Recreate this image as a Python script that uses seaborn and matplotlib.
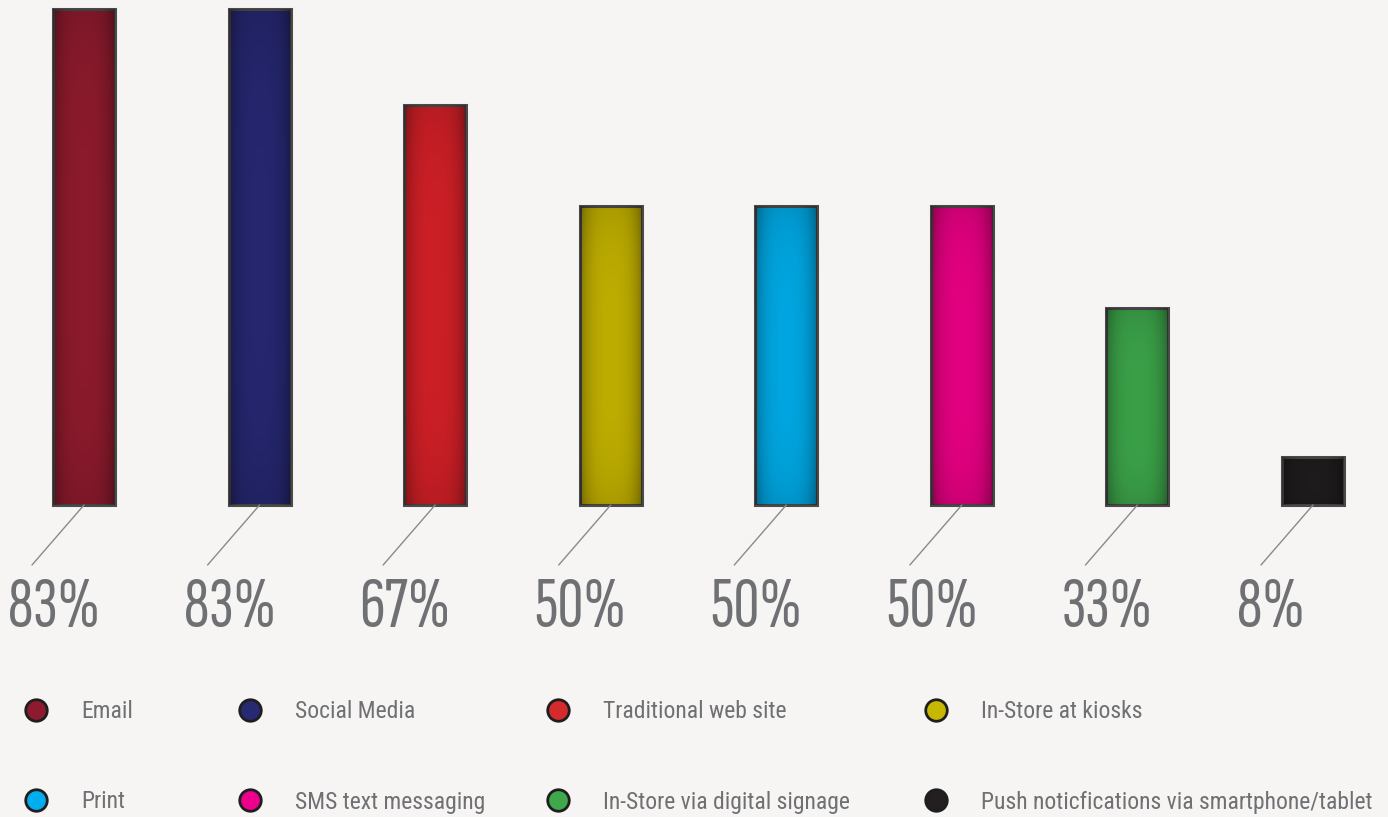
import numpy as np
import pandas as pd
import matplotlib.pyplot as plt
import seaborn as sns

# data
channels = ["Email", "Social Media", "Traditional web site", "In-Store at kiosks",
            "Print", "SMS text messaging", "In-Store via digital signage",
            "Push noticfications via smartphone/tablet"]
percent = [83, 83, 67, 50, 50, 50, 33, 8]
bar_colors = ["#8a1a2c", "#25266d", "#cb1f26", "#bcab00",
              "#00a4de", "#e1007f", "#3a9e47", "#1d1b1c"]
dot_colors = ["#8d1a2f", "#272a72", "#d52a2c", "#c6b800",
              "#00aeef", "#ec008c", "#3fa84a", "#231f20"]

df = pd.DataFrame({"channel": channels, "percent": percent})

W, H = 1388, 817
bg = "#f6f5f3"
grey_txt = "#6f7073"

sns.set_theme(style="white")
plt.rcParams["font.family"] = ["Roboto Condensed", "DejaVu Sans"]

fig = plt.figure(figsize=(W / 100, H / 100), dpi=100, facecolor=bg)

# bar axes: baseline at y=505 px, 83% reaches y=9 px
ax = fig.add_axes([0, (H - 505) / H, 1, (505 - 9) / H])
ax.patch.set_visible(False)
sns.barplot(data=df, x="channel", y="percent", hue="channel", palette=bar_colors,
            width=0.353, legend=False, ax=ax, edgecolor="#4a4a4a", linewidth=2.2,
            saturation=1)

# soft radial darkening towards the bar edges
gx = np.linspace(-1, 1, 200)
gy = np.linspace(-1, 1, 200)
XX, YY = np.meshgrid(gx, gy)
shade = np.zeros((200, 200, 4))
shade[..., 3] = np.clip(0.30 * np.abs(XX) ** 3 + 0.10 * np.abs(YY) ** 4, 0, 0.45)
for p in ax.patches:
    p.set_clip_on(False)
    x0, w, h = p.get_x(), p.get_width(), p.get_height()
    im = ax.imshow(shade, extent=(x0, x0 + w, 0, h), aspect="auto", zorder=p.get_zorder() + 0.1,
                   interpolation="bilinear")
    im.set_clip_path(p)

step = (1313 - 84) / 7
ax.set_xlim(-84 / step, (W - 84) / step)
ax.set_ylim(0, 83)
ax.set_axis_off()

# leader lines and percentage labels
for i, v in enumerate(percent):
    ax.annotate("", xy=(i, 0), xytext=(-52, -60), textcoords="offset pixels",
                arrowprops=dict(arrowstyle="-", color="#8a8a8a", lw=1, shrinkA=0, shrinkB=0),
                annotation_clip=False)
    ax.annotate(f"{v}%", xy=(i, 0), xytext=(-76, -122), textcoords="offset pixels",
                ha="left", va="baseline", fontsize=52, color=grey_txt,
                family=["Sofia Sans Extra Condensed", "DejaVu Sans"], fontweight="normal",
                annotation_clip=False)

# legend laid out in pixel coordinates
lg = fig.add_axes([0, 0, 1, 1], zorder=-1)
lg.set_xlim(0, W)
lg.set_ylim(H, 0)
lg.set_axis_off()
col_x = [36, 250, 558, 936]
row_y = [710, 800]
for k, (name, c) in enumerate(zip(channels, dot_colors)):
    x = col_x[k % 4]
    y = row_y[k // 4]
    lg.scatter([x], [y], s=240, color=c, edgecolor="#1e1e1e", linewidth=2, clip_on=False)
    lg.text(x + 45, y + 2, name, ha="left", va="center", fontsize=17, color=grey_txt)

fig.savefig("out.png", dpi=100, facecolor=bg)
